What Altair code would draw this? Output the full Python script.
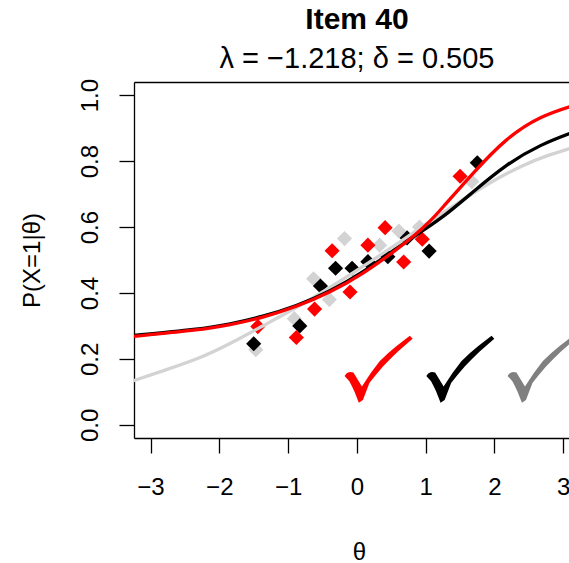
import altair as alt
import pandas as pd

# ---------------- values ----------------
# fitted curves (theta, probability)
gray_curve_theta = [-3.3, -2.8, -2.3, -1.85, -1.37, -0.88, -0.40, 0.09, 0.57, 1.06, 1.50, 1.93, 2.41, 2.80, 3.2]
gray_curve_p = [0.130, 0.165, 0.200, 0.245, 0.300, 0.355, 0.415, 0.480, 0.547, 0.617, 0.678, 0.735, 0.788, 0.820, 0.845]

black_curve_theta = [-3.3, -2.28, -1.85, -1.37, -0.88, -0.40, 0.09, 0.57, 1.00, 1.30, 1.69, 2.17, 2.66, 3.2]
black_curve_p = [0.270, 0.290, 0.305, 0.328, 0.360, 0.403, 0.462, 0.535, 0.595, 0.638, 0.707, 0.790, 0.850, 0.892]

red_curve_theta = [-3.3, -2.28, -1.85, -1.37, -0.88, -0.40, 0.09, 0.57, 0.86, 1.06, 1.20, 1.69, 2.17, 2.66, 3.2]
red_curve_p = [0.267, 0.288, 0.303, 0.325, 0.358, 0.400, 0.458, 0.530, 0.578, 0.617, 0.648, 0.765, 0.870, 0.937, 0.972]

# observed proportions (diamonds)
gray_pt_theta = [-1.47, -0.91, -0.63, -0.40, -0.18, 0.33, 0.61, 0.91, 1.67]
gray_pt_p = [0.228, 0.322, 0.443, 0.380, 0.565, 0.545, 0.588, 0.600, 0.738]

black_pt_theta = [-1.50, -0.83, -0.53, -0.31, -0.07, 0.16, 0.45, 0.73, 1.05, 1.75]
black_pt_p = [0.246, 0.300, 0.421, 0.475, 0.475, 0.495, 0.510, 0.567, 0.527, 0.795]

red_pt_theta = [-1.44, -0.88, -0.615, -0.36, -0.10, 0.16, 0.41, 0.68, 0.95, 1.50]
red_pt_p = [0.298, 0.265, 0.351, 0.528, 0.403, 0.545, 0.598, 0.494, 0.563, 0.754]

# check-mark symbols
check_theta = [0.315, 1.503, 2.685]
check_p = [0.170, 0.170, 0.170]
check_colors = ["#FF0000", "#000000", "#808080"]

x_ticks = [-3, -2, -1, 0, 1, 2, 3]
y_ticks = [0.0, 0.2, 0.4, 0.6, 0.8, 1.0]

title_text = "Item 40"
subtitle_text = "λ = −1.218; δ = 0.505"
x_title = "θ"
y_title = "P(X=1|θ)"

# ---------------- styling ----------------
FONT = "Liberation Sans"
GRAY = "#D3D3D3"
xs = alt.Scale(domain=[-3.24, 3.083], nice=False, zero=False)
ys = alt.Scale(domain=[-0.04, 1.04], nice=False, zero=False)

common_axis = dict(
    tickSize=15, tickWidth=1.3, tickColor="black",
    domainColor="black", domainWidth=1.3,
    labelFont=FONT, labelFontSize=24, labelColor="black",
    labelPadding=22, labelFlush=False, labelOverlap=False, grid=False,
    titleFont=FONT, titleFontSize=24, titleFontWeight="normal", titleColor="black",
    titleAlign="center", titleBaseline="alphabetic",
)
x_axis = alt.Axis(values=x_ticks, format="d", title=x_title,
                  titleX=225, titleY=121, **common_axis)
y_axis = alt.Axis(values=y_ticks, format=".1f", title=y_title,
                  labelAngle=270, labelAlign="center", labelBaseline="alphabetic",
                  titleAngle=270, titleX=-95, titleY=178, **common_axis)
top_axis = alt.Axis(orient="top", labels=False, ticks=False, title="", grid=False,
                    domain=True, domainColor="black", domainWidth=1.3)

# calligraphic check-mark glyph outline (symbol shape, unit box -1..1)
CHECK_PATH = ("M -1.0 0.21 Q -0.95 0.12 -0.877 0.1 Q -0.8 0.09 -0.74 0.11 "
              "L -0.49 0.52 Q -0.25 0.13 0.03 -0.22 Q 0.28 -0.47 0.52 -0.66 "
              "L 0.92 -0.975 L 1.0 -0.88 L 0.57 -0.51 Q 0.35 -0.3 0.13 -0.07 "
              "Q -0.09 0.18 -0.27 0.42 L -0.46 0.92 L -0.58 1.0 "
              "L -0.71 0.67 Q -0.8 0.48 -0.86 0.37 Z")


def points(theta, p, color, xaxis=None):
    df = pd.DataFrame({"theta": theta, "p": p})
    return alt.Chart(df).mark_point(
        shape="diamond", filled=True, size=230, color=color, opacity=1, strokeWidth=0
    ).encode(
        x=alt.X("theta:Q", scale=xs, axis=xaxis),
        y=alt.Y("p:Q", scale=ys, axis=y_axis),
    )


def curve(theta, p, color):
    df = pd.DataFrame({"theta": theta, "p": p})
    return alt.Chart(df).mark_line(
        color=color, strokeWidth=3.3, interpolate="basis", clip=True
    ).encode(
        x=alt.X("theta:Q", scale=xs, axis=None),
        y=alt.Y("p:Q", scale=ys, axis=y_axis),
    )


checks_df = pd.DataFrame({"theta": check_theta, "p": check_p, "col": check_colors})
checks = alt.Chart(checks_df).mark_point(
    shape=CHECK_PATH, filled=True, size=4624, opacity=1, strokeWidth=0
).encode(
    x=alt.X("theta:Q", scale=xs, axis=None),
    y=alt.Y("p:Q", scale=ys, axis=y_axis),
    color=alt.Color("col:N", scale=None, legend=None),
)

frame_top = alt.Chart(pd.DataFrame({"theta": gray_pt_theta, "p": gray_pt_p})).mark_point(
    opacity=0
).encode(
    x=alt.X("theta:Q", scale=xs, axis=top_axis),
    y=alt.Y("p:Q", scale=ys, axis=y_axis),
)

chart = alt.layer(
    points(gray_pt_theta, gray_pt_p, GRAY, xaxis=x_axis),
    points(black_pt_theta, black_pt_p, "#000000"),
    points(red_pt_theta, red_pt_p, "#FF0000"),
    curve(gray_curve_theta, gray_curve_p, GRAY),
    curve(black_curve_theta, black_curve_p, "#000000"),
    curve(red_curve_theta, red_curve_p, "#FF0000"),
    checks,
    frame_top,
).resolve_axis(x="independent").properties(
    width=435,
    height=356,
    padding={"left": 134, "top": 82, "right": 0, "bottom": 125},
    autosize=alt.AutoSizeParams(type="none"),
    title=alt.TitleParams(
        text=title_text, subtitle=subtitle_text,
        font=FONT, fontSize=30, fontWeight="bold", color="black",
        subtitleFont=FONT, subtitleFontSize=29, subtitleColor="black",
        subtitlePadding=10, anchor="middle", dx=5.5, offset=5,
    ),
    background="white",
).configure_view(strokeWidth=0)

chart.save("out.html", embed_options={"renderer": "svg", "actions": False})
